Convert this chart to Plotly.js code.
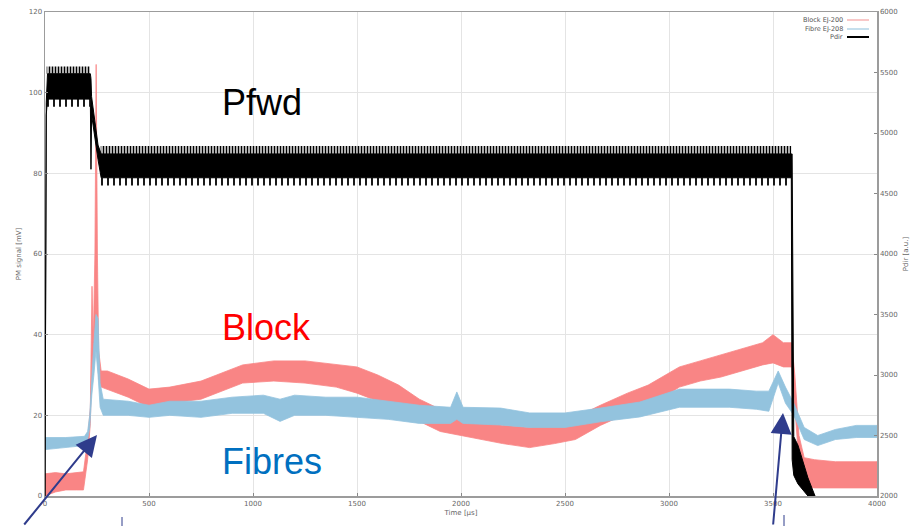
<!DOCTYPE html>
<html>
<head>
<meta charset="utf-8">
<script src="https://cdn.plot.ly/plotly-3.0.1.min.js"></script>
<style>html,body{margin:0;padding:0;background:#fff;}#chart{width:923px;height:526px;}</style>
</head>
<body>
<div id="chart"></div>
<script>
// ---- Block EJ-200 (red), envelope of the noisy signal, PM signal [mV]
const blockTime  = [0, 50, 100, 150, 185, 205, 218, 226, 232, 240, 246, 252, 258, 270, 300, 400, 500, 600, 750, 950, 1100, 1250, 1400, 1500, 1600, 1700, 1800, 1900, 2000, 2100, 2200, 2330, 2450, 2550, 2670, 2800, 2900, 3050, 3150, 3250, 3350, 3450, 3500, 3550, 3590, 3605, 3625, 3650, 3700, 3800, 3900, 4000];
const blockUpper = [5.5, 5.8, 5.5, 5.8, 6, 14, 22, 52, 38, 60, 107, 60, 36, 31, 31, 29, 26.5, 27, 28.5, 32.5, 33.5, 33.5, 32.5, 32, 30, 27.5, 24, 21.5, 20, 18.5, 17.5, 17, 18, 19.5, 22.5, 25.5, 27.5, 32, 33.5, 35, 36.5, 38, 40, 38, 38, 30, 15, 9.5, 9, 8.5, 8.5, 8.5];
const blockLower = [0, 1, 1.5, 1.5, 1.5, 9, 18, 35, 30, 40, 45, 38, 29, 27, 26.5, 24.5, 22, 23, 24, 28, 28.5, 28, 27, 25.5, 23.5, 21, 18.5, 16, 15, 14, 13, 12, 13, 14, 17.5, 20.5, 22, 27, 28.5, 29.5, 31, 32.5, 33, 32, 32, 22, 8, 2.5, 2, 2, 2, 2];

// ---- Fibre EJ-208 (blue), envelope, PM signal [mV]
const fibreTime  = [0, 100, 190, 205, 215, 225, 235, 245, 255, 265, 280, 400, 500, 600, 750, 900, 1050, 1130, 1200, 1350, 1500, 1650, 1800, 1950, 1980, 2010, 2190, 2330, 2500, 2670, 2860, 3050, 3290, 3420, 3480, 3525, 3560, 3600, 3650, 3715, 3800, 3900, 4000];
const fibreUpper = [14.5, 14.5, 14.8, 16, 20, 30, 38, 45, 44, 28, 24, 23.5, 22.5, 23.5, 23.5, 24.5, 25, 24, 25, 24.5, 24.5, 23.5, 22.5, 22, 25.8, 22, 21.8, 20.6, 20.6, 21.8, 23.3, 26.5, 26.5, 26, 26, 31, 27, 23, 17, 15, 16.5, 17.5, 17.5];
const fibreLower = [11.5, 12, 12.5, 14, 17, 25, 30, 36, 30, 22, 20, 20, 19.5, 20, 19.5, 20.5, 20.5, 18.5, 20, 20, 19.5, 19, 18, 18, 19, 18, 17.6, 17, 17, 18.4, 19.6, 22, 22, 21.5, 21, 28, 23, 20, 14, 12.5, 14, 14.5, 14.5];

// ---- Pdir / Pfwd (black), dense core of the signal, Pdir [a.u.]
const pdirTime  = [0, 6, 12, 218, 221, 224, 255, 270, 3588, 3592, 3600, 3620, 3668, 3702];
const pdirUpper = [2000, 5250, 5490, 5490, 5450, 5300, 4900, 4827, 4827, 4827, 2490, 2420, 2150, 2000];
const pdirLower = [2000, 5150, 5280, 5280, 4700, 5150, 4780, 4630, 4630, 2300, 2170, 2100, 2000, 2000];
// spike fringe of Pdir on its two flat plateaus
const pdirSpikeStart = [8, 268];
const pdirSpikeEnd   = [216, 3588];
const pdirSpikeHigh  = [5550, 4893];
const pdirSpikeLow   = [5217, 4567];
const pdirCoreHigh   = [5490, 4827];
const pdirCoreLow    = [5280, 4630];

// ---- text
const legendNames = ['Block EJ-200', 'Fibre EJ-208', 'Pdir'];
const labelTexts  = ['Pfwd', 'Block', 'Fibres'];

function band(t, up, lo) {
  return { x: t.concat(t.slice().reverse()), y: up.concat(lo.slice().reverse()) };
}

const RED = '#f98585', BLUE = '#93c3de';
const traces = [];
const b = band(blockTime, blockUpper, blockLower);
traces.push({x: b.x, y: b.y, type: 'scatter', mode: 'lines', fill: 'toself', fillcolor: RED,
  line: {color: RED, width: 0.8}, hoverinfo: 'skip', name: legendNames[0]});
const f = band(fibreTime, fibreUpper, fibreLower);
traces.push({x: f.x, y: f.y, type: 'scatter', mode: 'lines', fill: 'toself', fillcolor: BLUE,
  line: {color: BLUE, width: 0.8}, hoverinfo: 'skip', name: legendNames[1]});

for (let i = 0; i < pdirSpikeStart.length; i++) {
  const tt = [pdirSpikeStart[i], pdirSpikeEnd[i]];
  const top = band(tt, [pdirSpikeHigh[i], pdirSpikeHigh[i]], [pdirCoreHigh[i], pdirCoreHigh[i]]);
  traces.push({x: top.x, y: top.y, yaxis: 'y2', type: 'scatter', mode: 'lines', fill: 'toself',
    fillcolor: 'rgba(0,0,0,0)', fillpattern: {shape: '|', fgcolor: '#000', bgcolor: 'rgba(0,0,0,0)', size: 3, solidity: 0.55},
    line: {width: 0}, hoverinfo: 'skip'});
  const bot = band(tt, [pdirCoreLow[i], pdirCoreLow[i]], [pdirSpikeLow[i], pdirSpikeLow[i]]);
  traces.push({x: bot.x, y: bot.y, yaxis: 'y2', type: 'scatter', mode: 'lines', fill: 'toself',
    fillcolor: 'rgba(0,0,0,0)', fillpattern: {shape: '|', fgcolor: '#000', bgcolor: 'rgba(0,0,0,0)', size: 6, solidity: 0.3},
    line: {width: 0}, hoverinfo: 'skip'});
}
const p = band(pdirTime, pdirUpper, pdirLower);
traces.push({x: p.x, y: p.y, yaxis: 'y2', type: 'scatter', mode: 'lines', fill: 'toself', fillcolor: '#000',
  line: {color: '#000', width: 1}, hoverinfo: 'skip', name: legendNames[2]});

const tickFont = {family: 'DejaVu Sans, sans-serif', size: 7, color: '#666'};
const axisCommon = {
  showline: true, linecolor: '#9c9c9c', linewidth: 1.5, zeroline: false,
  ticks: 'inside', ticklen: 3, tickcolor: '#888', tickfont: tickFont
};

const PX0 = 45, PW = 832, PY0 = 496, PH = 484;
const px = v => (v - PX0) / PW;
const py = v => (PY0 - v) / PH;

const navy = '#2f3c8c';
const annotations = [
  {text: labelTexts[0], x: px(220), y: py(103), xref: 'paper', yref: 'paper', xanchor: 'left', yanchor: 'middle',
   showarrow: false, font: {family: 'Liberation Sans, Arial, sans-serif', size: 36, color: '#000'}},
  {text: labelTexts[1], x: px(220), y: py(327), xref: 'paper', yref: 'paper', xanchor: 'left', yanchor: 'middle',
   showarrow: false, font: {family: 'Liberation Sans, Arial, sans-serif', size: 36, color: '#ff0000'}},
  {text: labelTexts[2], x: px(220), y: py(461), xref: 'paper', yref: 'paper', xanchor: 'left', yanchor: 'middle',
   showarrow: false, font: {family: 'Liberation Sans, Arial, sans-serif', size: 36, color: '#0070c0'}},
  {text: '', x: px(97), y: py(435), xref: 'paper', yref: 'paper', showarrow: true, ax: -74, ay: 100,
   arrowhead: 2, arrowsize: 2.1, arrowwidth: 2, arrowcolor: navy},
  {text: '', x: px(783), y: py(413), xref: 'paper', yref: 'paper', showarrow: true, ax: -10, ay: 118,
   arrowhead: 2, arrowsize: 2.1, arrowwidth: 2, arrowcolor: navy}
];
const legendY = [20, 29, 37];
const legendColors = ['#f4a3a3', '#9fcae2', '#000'];
const shapes = [
  {type: 'line', xref: 'paper', yref: 'paper', x0: px(122), x1: px(122), y0: py(517), y1: py(527), line: {color: navy, width: 1}},
  {type: 'line', xref: 'paper', yref: 'paper', x0: px(784), x1: px(784), y0: py(515), y1: py(527), line: {color: navy, width: 1}}
];
legendNames.forEach((n, i) => {
  annotations.push({text: n, x: px(845), y: py(legendY[i]), xref: 'paper', yref: 'paper', xanchor: 'right', yanchor: 'middle',
    showarrow: false, font: {family: 'DejaVu Sans, sans-serif', size: 6.5, color: '#555'}});
  shapes.push({type: 'line', xref: 'paper', yref: 'paper', x0: px(847), x1: px(869), y0: py(legendY[i]), y1: py(legendY[i]),
    line: {color: legendColors[i], width: i === 2 ? 2 : 1.2}});
});

const layout = {
  width: 923, height: 526,
  margin: {l: 45, r: 46, t: 12, b: 30, pad: 0},
  paper_bgcolor: '#fff', plot_bgcolor: '#fff',
  showlegend: false,
  font: {family: 'DejaVu Sans, sans-serif', size: 7, color: '#666'},
  xaxis: Object.assign({}, axisCommon, {range: [0, 4000], tick0: 0, dtick: 500, mirror: true,
    showgrid: true, gridcolor: '#e4e4e4', gridwidth: 1,
    title: {text: 'Time [µs]', font: tickFont, standoff: 3}}),
  yaxis: Object.assign({}, axisCommon, {range: [0, 120], tick0: 0, dtick: 20, mirror: true,
    showgrid: true, gridcolor: '#e4e4e4', gridwidth: 1,
    title: {text: 'PM signal [mV]', font: tickFont, standoff: 6}}),
  yaxis2: Object.assign({}, axisCommon, {range: [2000, 6000], tick0: 2000, dtick: 500, overlaying: 'y', side: 'right',
    showgrid: false, title: {text: 'Pdir [a.u.]', font: tickFont, standoff: 6}}),
  annotations: annotations,
  shapes: shapes
};

Plotly.newPlot('chart', traces, layout, {staticPlot: true, displayModeBar: false});
</script>
</body>
</html>
